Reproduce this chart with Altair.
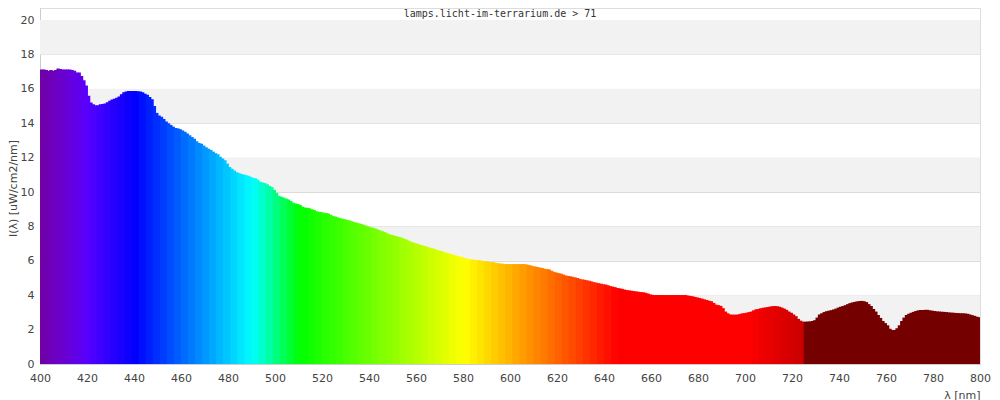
import altair as alt
import pandas as pd

# wavelengths (nm), one bar per nm
wavelengths = list(range(400, 800))

# spectral irradiance I(lambda) in uW/cm2/nm
intensity = [
    17.13, 17.13, 17.10, 17.05, 17.10, 17.05, 17.10, 17.18, 17.15, 17.13,
    17.13, 17.13, 17.13, 17.10, 17.05, 16.95, 16.95, 16.75, 16.50, 16.20,
    15.60, 15.20, 15.10, 15.05, 15.05, 15.10, 15.12, 15.15, 15.22, 15.30,
    15.38, 15.42, 15.48, 15.55, 15.68, 15.80, 15.85, 15.87, 15.88, 15.88,
    15.87, 15.86, 15.85, 15.80, 15.72, 15.65, 15.52, 15.40, 15.00, 14.60,
    14.45, 14.38, 14.25, 14.10, 14.00, 13.90, 13.80, 13.72, 13.70, 13.65,
    13.58, 13.50, 13.40, 13.30, 13.20, 13.10, 12.95, 12.85, 12.80, 12.70,
    12.60, 12.52, 12.45, 12.35, 12.25, 12.20, 12.05, 11.95, 11.85, 11.65,
    11.45, 11.35, 11.25, 11.15, 11.10, 11.05, 11.02, 10.98, 10.95, 10.88,
    10.82, 10.80, 10.72, 10.60, 10.55, 10.52, 10.45, 10.35, 10.28, 10.12,
    9.95, 9.78, 9.72, 9.68, 9.62, 9.57, 9.48, 9.38, 9.33, 9.30,
    9.25, 9.15, 9.10, 9.08, 9.05, 9.00, 8.95, 8.88, 8.85, 8.83,
    8.80, 8.78, 8.75, 8.68, 8.60, 8.57, 8.53, 8.48, 8.45, 8.42,
    8.38, 8.35, 8.30, 8.25, 8.22, 8.18, 8.14, 8.10, 8.05, 8.00,
    7.95, 7.92, 7.88, 7.82, 7.77, 7.72, 7.67, 7.60, 7.54, 7.50,
    7.47, 7.43, 7.39, 7.36, 7.30, 7.25, 7.18, 7.12, 7.07, 7.03,
    6.98, 6.94, 6.90, 6.86, 6.82, 6.77, 6.73, 6.70, 6.65, 6.60,
    6.57, 6.52, 6.48, 6.44, 6.40, 6.36, 6.32, 6.28, 6.25, 6.21,
    6.16, 6.12, 6.10, 6.08, 6.06, 6.05, 6.04, 6.02, 5.99, 5.97,
    5.95, 5.93, 5.92, 5.90, 5.87, 5.85, 5.83, 5.82, 5.81, 5.81,
    5.81, 5.81, 5.81, 5.81, 5.81, 5.81, 5.80, 5.77, 5.74, 5.70,
    5.67, 5.64, 5.61, 5.58, 5.54, 5.52, 5.50, 5.42, 5.36, 5.32,
    5.28, 5.26, 5.20, 5.15, 5.12, 5.10, 5.07, 5.04, 5.00, 4.95,
    4.92, 4.90, 4.87, 4.84, 4.80, 4.76, 4.73, 4.70, 4.67, 4.64,
    4.62, 4.58, 4.53, 4.50, 4.47, 4.42, 4.40, 4.37, 4.33, 4.30,
    4.28, 4.26, 4.24, 4.22, 4.20, 4.18, 4.17, 4.14, 4.10, 4.05,
    4.02, 4.01, 4.01, 4.01, 4.01, 4.01, 4.01, 4.01, 4.01, 4.01,
    4.01, 4.01, 4.01, 4.01, 4.01, 3.98, 3.96, 3.94, 3.90, 3.87,
    3.84, 3.80, 3.76, 3.72, 3.68, 3.65, 3.55, 3.45, 3.42, 3.38,
    3.25, 3.05, 2.95, 2.88, 2.87, 2.87, 2.87, 2.90, 2.94, 2.96,
    2.98, 3.02, 3.05, 3.12, 3.18, 3.20, 3.24, 3.27, 3.29, 3.31,
    3.34, 3.36, 3.37, 3.36, 3.33, 3.28, 3.22, 3.15, 3.05, 2.98,
    2.88, 2.78, 2.62, 2.52, 2.46, 2.46, 2.47, 2.48, 2.50, 2.55,
    2.70, 2.88, 2.95, 3.02, 3.07, 3.10, 3.13, 3.17, 3.22, 3.28,
    3.33, 3.37, 3.42, 3.48, 3.54, 3.58, 3.61, 3.64, 3.66, 3.67,
    3.65, 3.60, 3.48, 3.37, 3.20, 3.05, 2.85, 2.68, 2.50, 2.38,
    2.25, 2.05, 1.98, 1.98, 2.08, 2.25, 2.50, 2.70, 2.85, 2.92,
    2.98, 3.03, 3.08, 3.12, 3.14, 3.14, 3.15, 3.15, 3.12, 3.10,
    3.08, 3.06, 3.05, 3.04, 3.03, 3.02, 3.00, 2.99, 2.98, 2.97,
    2.96, 2.95, 2.95, 2.94, 2.92, 2.88, 2.84, 2.80, 2.75, 2.72,
]

y_ticks = [0, 2, 4, 6, 8, 10, 12, 14, 16, 18, 20]
x_ticks = [400, 420, 440, 460, 480, 500, 520, 540, 560, 580, 600,
           620, 640, 660, 680, 700, 720, 740, 760, 780, 800]
band_lo = [2, 6, 10, 14, 18]
band_hi = [4, 8, 12, 16, 20]
title_text = "lamps.licht-im-terrarium.de > 71"


def wl_color(w):
    if w >= 725:
        return "#750000"
    wq = 400 + 3 * ((w - 400) // 3) + 1
    if wq < 440:
        r, g, b = -(wq - 440) / 60.0, 0.0, 1.0
    elif wq < 490:
        r, g, b = 0.0, (wq - 440) / 50.0, 1.0
    elif wq < 510:
        r, g, b = 0.0, 1.0, -(wq - 510) / 20.0
    elif wq < 580:
        r, g, b = (wq - 510) / 70.0, 1.0, 0.0
    elif wq < 645:
        r, g, b = 1.0, -(wq - 645) / 65.0, 0.0
    else:
        r, g, b = 1.0, 0.0, 0.0
    if wq < 420:
        f = 0.3 + 0.7 * (wq - 380) / 40.0
    elif wq <= 700:
        f = 1.0
    else:
        f = 0.3 + 0.7 * (780 - wq) / 80.0
    return "#%02x%02x%02x" % (round(255 * r * f), round(255 * g * f), round(255 * b * f))


df = pd.DataFrame({
    "w": wavelengths,
    # bars overlap the next one slightly so no anti-aliasing seams show
    "w2": [min(w + 1.4, 800) for w in wavelengths],
    "v": intensity,
    "c": [wl_color(w) for w in wavelengths],
})
bands = pd.DataFrame({"lo": band_lo, "hi": band_hi})

xscale = alt.Scale(domain=[400, 800], nice=False, zero=False)
yscale = alt.Scale(domain=[0, 20.7], nice=False)

yaxis = alt.Axis(values=y_ticks, title="I(λ)  [uW/cm2/nm]",
                 grid=True, gridColor="#dcdcdc", gridWidth=1,
                 tickSize=0, labelPadding=6, domainColor="#cccccc",
                 labelOverlap=False, labelFlush=False,
                 labelFont="DejaVu Sans", labelFontSize=11, labelColor="#444444",
                 titleFont="DejaVu Sans", titleFontSize=11, titleColor="#444444",
                 titleFontWeight="normal", titleAngle=-90,
                 titleX=-27, titleY=180, titleAlign="center",
                 titleBaseline="middle")

xaxis = alt.Axis(values=x_ticks, title="λ [nm]", grid=False,
                 tickSize=0, labelPadding=8, domainColor="#cccccc",
                 labelOverlap=False, labelFlush=False,
                 labelFont="DejaVu Sans", labelFontSize=11, labelColor="#444444",
                 titleFont="DejaVu Sans", titleFontSize=11, titleColor="#444444",
                 titleFontWeight="normal", titleX=940, titleY=31,
                 titleAlign="right", titleBaseline="middle")

bg = alt.Chart(bands).mark_rect(color="#f2f2f2").encode(
    y=alt.Y("lo:Q", scale=yscale, axis=yaxis),
    y2="hi:Q",
    x=alt.value(0),
    x2=alt.value(940),
)

bars = alt.Chart(df).mark_rect().encode(
    x=alt.X("w:Q", scale=xscale, axis=xaxis),
    x2="w2:Q",
    y=alt.Y("v:Q", scale=yscale, axis=yaxis),
    y2=alt.datum(0),
    color=alt.Color("c:N", scale=None),
)

title = alt.Chart(pd.DataFrame({"t": [title_text]})).mark_text(
    font="DejaVu Sans Mono", fontSize=10, color="#333333",
    align="center", baseline="middle",
).encode(text="t:N", x=alt.value(460), y=alt.value(5.5))

chart = alt.layer(bg, bars, title).properties(
    width=940, height=356,
    autosize=alt.AutoSizeParams(type="none"),
    padding={"left": 32, "top": 0, "right": 12, "bottom": 40},
).configure_view(stroke="#cccccc", strokeWidth=1).configure(background="white")

chart.save("out.html", embed_options={"renderer": "svg", "actions": False})
